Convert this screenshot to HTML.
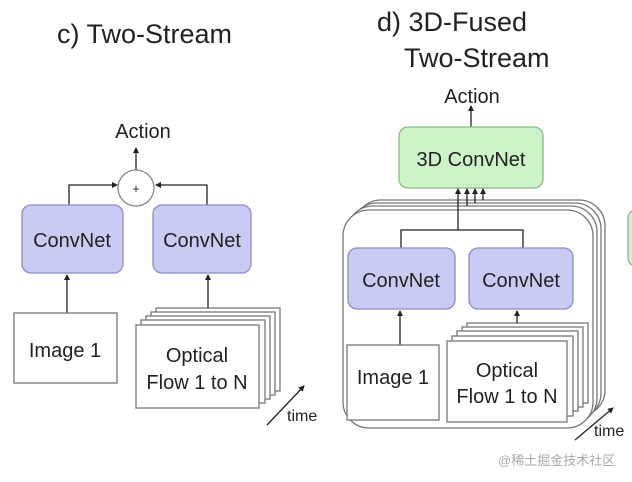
<!DOCTYPE html>
<html><head><meta charset="utf-8"><style>body{margin:0;background:#fff}svg{display:block}text{font-family:"Liberation Sans",sans-serif;fill:#222}</style></head><body>
<svg width="632" height="482" viewBox="0 0 632 482" xmlns="http://www.w3.org/2000/svg">
<defs><marker id="a" markerWidth="6" markerHeight="6" refX="5" refY="3" orient="auto" markerUnits="userSpaceOnUse"><path d="M0,0L6,3L0,6z" fill="#222"/></marker></defs>
<g stroke="#222" stroke-width="1.3" fill="none">
<!-- left -->
<text x="57" y="43" font-size="27" stroke="none">c) Two-Stream</text>
<text x="143" y="138" font-size="20" text-anchor="middle" stroke="none">Action</text>
<line x1="136" y1="170" x2="136" y2="148" marker-end="url(#a)"/>
<circle cx="136" cy="188" r="18" fill="#fff" stroke="#888"/>
<text x="136" y="193" font-size="12" text-anchor="middle" stroke="none">+</text>
<polyline points="69,205 69,185 117,185" marker-end="url(#a)"/>
<polyline points="207,205 207,185 156,185" marker-end="url(#a)"/>
<rect x="22" y="205" width="101" height="68" rx="9" fill="#c9cbf3" stroke="#8a8cc8"/>
<rect x="153" y="205" width="98" height="68" rx="9" fill="#c9cbf3" stroke="#8a8cc8"/>
<text x="72" y="247" font-size="20" text-anchor="middle" stroke="none">ConvNet</text>
<text x="202" y="247" font-size="20" text-anchor="middle" stroke="none">ConvNet</text>
<line x1="67" y1="313" x2="67" y2="275" marker-end="url(#a)"/>
<rect x="14" y="313" width="103" height="70" fill="#fff" stroke="#777"/>
<text x="65" y="357" font-size="20" text-anchor="middle" stroke="none">Image 1</text>
<g stroke="#777" fill="#fff">
<rect x="156" y="308" width="124" height="83"/><rect x="151" y="312" width="124" height="83"/><rect x="146" y="316" width="124" height="83"/><rect x="141" y="320" width="124" height="83"/><rect x="136" y="325" width="123" height="83"/></g>
<line x1="208" y1="308" x2="208" y2="275" marker-end="url(#a)"/>
<text x="197" y="362" font-size="20" text-anchor="middle" stroke="none">Optical</text>
<text x="197" y="389" font-size="20" text-anchor="middle" stroke="none">Flow 1 to N</text>
<line x1="267" y1="425" x2="304" y2="386" marker-end="url(#a)"/>
<text x="287" y="421" font-size="16" stroke="none">time</text>
<!-- right -->
<text x="377" y="31" font-size="27" stroke="none">d) 3D-Fused</text>
<text x="404" y="67" font-size="27" stroke="none">Two-Stream</text>
<text x="472" y="103" font-size="20" text-anchor="middle" stroke="none">Action</text>
<line x1="471" y1="127" x2="471" y2="106" marker-end="url(#a)"/>
<rect x="399" y="127" width="144" height="61" rx="9" fill="#cdf3c8" stroke="#8ab884"/>
<text x="471" y="166" font-size="20" text-anchor="middle" stroke="none">3D ConvNet</text>
<g stroke="#777" fill="#fff">
<rect x="355" y="200" width="250" height="216" rx="26"/><rect x="351" y="203" width="250" height="216" rx="26"/><rect x="347" y="206" width="250" height="218" rx="26"/><rect x="343" y="210" width="250" height="218" rx="26"/></g>
<line x1="483" y1="200" x2="483" y2="189" marker-end="url(#a)"/>
<line x1="475" y1="203" x2="475" y2="189" marker-end="url(#a)"/>
<line x1="467" y1="206" x2="467" y2="189" marker-end="url(#a)"/>
<line x1="458" y1="230" x2="458" y2="189" marker-end="url(#a)"/>
<polyline points="401,248 401,230 523,230 523,248"/>
<rect x="348" y="248" width="107" height="61" rx="9" fill="#c9cbf3" stroke="#8a8cc8"/>
<rect x="469" y="248" width="104" height="61" rx="9" fill="#c9cbf3" stroke="#8a8cc8"/>
<text x="401" y="287" font-size="20" text-anchor="middle" stroke="none">ConvNet</text>
<text x="521" y="287" font-size="20" text-anchor="middle" stroke="none">ConvNet</text>
<line x1="400" y1="345" x2="400" y2="311" marker-end="url(#a)"/>
<rect x="347" y="345" width="92" height="75" fill="#fff" stroke="#777"/>
<text x="393" y="384" font-size="20" text-anchor="middle" stroke="none">Image 1</text>
<g stroke="#777" fill="#fff">
<rect x="467" y="323" width="121" height="80"/><rect x="462" y="327" width="121" height="80"/><rect x="457" y="331" width="121" height="80"/><rect x="452" y="336" width="121" height="80"/><rect x="447" y="341" width="120" height="81"/></g>
<line x1="517" y1="323" x2="517" y2="311" marker-end="url(#a)"/>
<text x="507" y="377" font-size="20" text-anchor="middle" stroke="none">Optical</text>
<text x="507" y="403" font-size="20" text-anchor="middle" stroke="none">Flow 1 to N</text>
<line x1="575" y1="440" x2="613" y2="408" marker-end="url(#a)"/>
<text x="594" y="436" font-size="16" stroke="none">time</text>
<rect x="628" y="210" width="20" height="56" rx="8" fill="#cdf3c8" stroke="#8ab884"/>
</g>
<text x="498" y="465" font-size="13" style="font-family:'Liberation Sans','Noto Sans CJK SC',sans-serif;fill:#aaa">@稀土掘金技术社区</text>
</svg>
</body></html>
